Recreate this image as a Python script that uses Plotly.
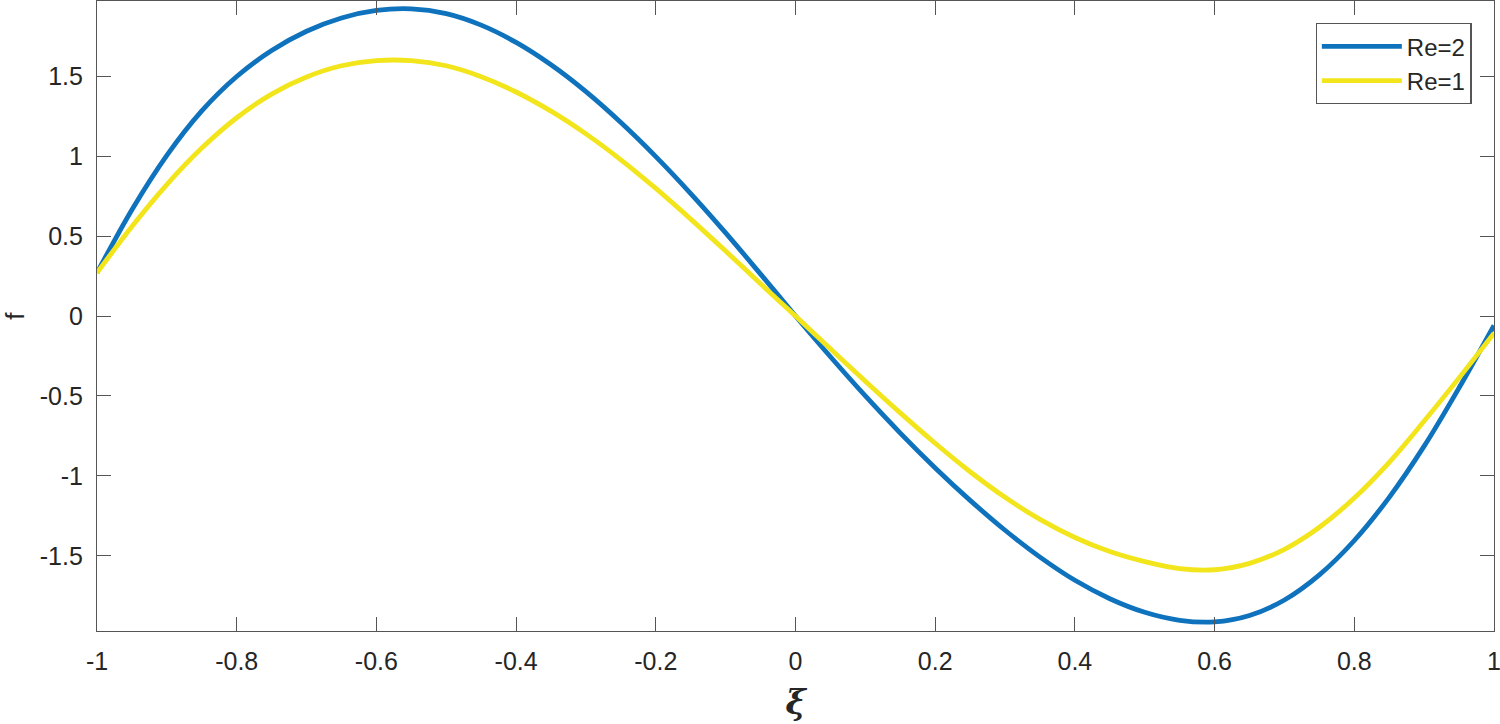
import plotly.graph_objects as go

xi = [-1.00, -0.95, -0.90, -0.85, -0.80, -0.75, -0.70, -0.65, -0.60, -0.55,
      -0.50, -0.45, -0.40, -0.35, -0.30, -0.25, -0.20, -0.15, -0.10, -0.05,
      0.00, 0.05, 0.10, 0.15, 0.20, 0.25, 0.30, 0.35, 0.40, 0.45,
      0.50, 0.55, 0.60, 0.65, 0.70, 0.75, 0.80, 0.85, 0.90, 0.95, 1.00]

f_re2 = [0.27, 0.665, 1.005, 1.283, 1.498, 1.661, 1.781, 1.864, 1.911, 1.921,
         1.891, 1.819, 1.711, 1.571, 1.403, 1.21, 0.997, 0.766, 0.52, 0.262,
         0.00, -0.255, -0.50, -0.732, -0.95, -1.153, -1.34, -1.508, -1.653, -1.768,
         -1.853, -1.903, -1.913, -1.873, -1.776, -1.619, -1.404, -1.134, -0.814, -0.449, -0.059]

f_re1 = [0.27, 0.56, 0.822, 1.05, 1.24, 1.388, 1.495, 1.565, 1.597, 1.597,
         1.565, 1.497, 1.401, 1.281, 1.139, 0.977, 0.798, 0.606, 0.406, 0.201,
         0.00, -0.205, -0.408, -0.606, -0.796, -0.974, -1.134, -1.272, -1.385, -1.473,
         -1.536, -1.58, -1.587, -1.547, -1.459, -1.321, -1.138, -0.915, -0.657, -0.387, -0.107]

x_ticks = [-1, -0.8, -0.6, -0.4, -0.2, 0, 0.2, 0.4, 0.6, 0.8, 1]
x_tick_text = ["-1", "-0.8", "-0.6", "-0.4", "-0.2", "0", "0.2", "0.4", "0.6", "0.8", "1"]
y_ticks = [-1.5, -1, -0.5, 0, 0.5, 1, 1.5]
y_tick_text = ["-1.5", "-1", "-0.5", "0", "0.5", "1", "1.5"]

BLUE = "#0F72BD"
YELLOW = "#F2E51B"
AXIS = "#555555"
TEXT = "#262626"
FONT = "Liberation Sans, Arial, Helvetica, sans-serif"

fig = go.Figure()
fig.add_trace(go.Scatter(x=xi, y=f_re2, mode="lines", name="Re=2",
                         line=dict(color=BLUE, width=4.8, shape="spline", smoothing=1.0)))
fig.add_trace(go.Scatter(x=xi, y=f_re1, mode="lines", name="Re=1",
                         line=dict(color=YELLOW, width=4.8, shape="spline", smoothing=1.0)))

axis_common = dict(
    showline=True, linecolor=AXIS, linewidth=1.2, mirror="ticks",
    ticks="inside", ticklen=14, tickcolor=AXIS, tickwidth=1.2,
    showgrid=False, zeroline=False, automargin=False,
    ticklabeloverflow="allow",
    tickfont=dict(family=FONT, size=25, color=TEXT),
)

fig.update_xaxes(range=[-1, 1], tickvals=x_ticks, ticktext=x_tick_text,
                 title=dict(text="<i><b>ξ</b></i>", font=dict(family="DejaVu Serif, serif", size=34, color=TEXT), standoff=16),
                 ticklabelstandoff=8, **axis_common)
fig.update_yaxes(range=[-1.97, 1.97], tickvals=y_ticks, ticktext=y_tick_text,
                 title=dict(text="f", font=dict(family=FONT, size=26, color=TEXT), standoff=20),
                 ticklabelstandoff=8, **axis_common)

fig.update_layout(
    width=1500, height=724,
    margin=dict(l=97, r=6, t=1, b=93, autoexpand=False),
    paper_bgcolor="white", plot_bgcolor="white",
    showlegend=True,
    legend=dict(x=0.984, y=0.965, xanchor="right", yanchor="top",
                bgcolor="white", bordercolor=AXIS, borderwidth=1.2,
                font=dict(family=FONT, size=24, color=TEXT),
                itemwidth=80, tracegroupgap=0),
)

fig.write_html("out.html",
               config={"displayModeBar": False},
               post_script="document.body.style.margin='0';document.body.style.overflow='hidden';")
